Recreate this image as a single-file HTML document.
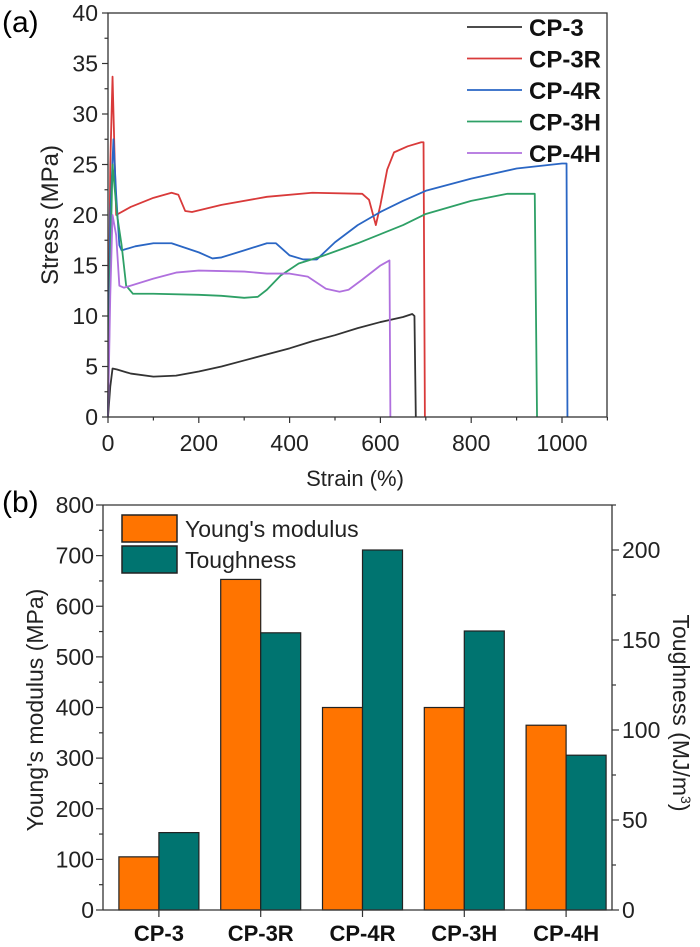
<!DOCTYPE html>
<html><head><meta charset="utf-8"><style>
body{margin:0;background:#fff}
svg{display:block;font-family:"Liberation Sans",Arial,sans-serif}
</style></head><body>
<svg id="fig" width="700" height="947" viewBox="0 0 700 947">
<g id="top"></g>
<g id="bot"></g>
</svg>
<script>
// ---- (a) data ----
const seriesNames=["CP-3","CP-3R","CP-4R","CP-3H","CP-4H"];
const seriesColors=["#333333","#d93a3a","#2a66c4","#2ea066","#b070de"];
const cp3=[[0,0],[5,3],[10,4.8],[20,4.7],[50,4.3],[100,4.0],[150,4.1],[200,4.5],[250,5.0],[300,5.6],[350,6.2],[400,6.8],[450,7.5],[500,8.1],[550,8.8],[600,9.4],[650,9.9],[670,10.2],[675,10],[678,0]];
const cp3r=[[0,0],[5,25],[10,33.7],[15,25],[18,20],[50,20.8],[100,21.7],[140,22.2],[155,22.0],[170,20.4],[185,20.3],[250,21.0],[350,21.8],[450,22.2],[560,22.1],[575,21.5],[590,19.0],[600,21],[615,24.5],[630,26.2],[660,26.8],[690,27.2],[695,27.2],[698,0]];
const cp4r=[[0,0],[5,20],[12,27.5],[18,22],[25,17],[30,16.5],[60,16.9],[100,17.2],[140,17.2],[200,16.3],[230,15.7],[250,15.8],[300,16.5],[350,17.2],[370,17.2],[400,16],[430,15.6],[460,15.6],[500,17.3],[550,19.0],[600,20.3],[650,21.4],[700,22.4],[800,23.6],[900,24.6],[1000,25.1],[1010,25.1],[1012,0]];
const cp3h=[[0,0],[5,15],[10,25],[20,20],[30,17],[40,13],[55,12.2],[100,12.2],[200,12.1],[250,12.0],[300,11.8],[330,11.9],[350,12.6],[380,14],[420,15.2],[470,15.9],[550,17.2],[650,19.0],[700,20.1],[800,21.4],[880,22.1],[940,22.1],[945,0]];
const cp4h=[[0,0],[5,12],[10,20],[18,18],[25,13],[35,12.8],[100,13.7],[150,14.3],[200,14.5],[300,14.4],[350,14.2],[400,14.2],[440,13.9],[480,12.7],[510,12.4],[530,12.6],[560,13.6],[600,15.0],[620,15.5],[622,0]];
const xTicksA=[0,200,400,600,800,1000];
const yTicksA=[0,5,10,15,20,25,30,35,40];
// ---- (b) data ----
const categories=["CP-3","CP-3R","CP-4R","CP-3H","CP-4H"];
const modulus=[105,653,400,400,365];
const toughness=[43,154,200,155,86];
const yTicksL=[0,100,200,300,400,500,600,700,800];
const yTicksR=[0,50,100,150,200];

const NS="http://www.w3.org/2000/svg";
function mk(p,tag,at,txt){const e=document.createElementNS(NS,tag);for(const k in at)e.setAttribute(k,at[k]);if(txt!=null)e.textContent=txt;p.appendChild(e);return e;}

// ===== chart a =====
const A=document.getElementById('top');
const aL=108,aR=607,aT=13,aB=417;
const ax=v=>aL+v*0.454;
const ay=v=>aB-v*(aB-aT)/40;
let t=mk(A,'text',{x:2,y:32,'font-size':30},'(a)');

const allS=[cp3,cp3r,cp4r,cp3h,cp4h];
allS.forEach((s,i)=>{
 const p=mk(A,'polyline',{points:s.map(d=>ax(d[0])+','+ay(d[1])).join(' '),fill:'none',stroke:seriesColors[i],'stroke-width':1.8,'stroke-linejoin':'round'});
 
 
});
let fr=mk(A,'rect',{x:aL,y:aT,width:aR-aL,height:aB-aT,fill:'none',stroke:'#333','stroke-width':1.3});

for(let v=0;v<=1100;v+=100){const x=ax(v);mk(A,'line',{x1:x,x2:x,y1:aB,y2:aB+(v%200==0?6:3.5),stroke:'#333','stroke-width':1.2});}
xTicksA.forEach(v=>{const e=mk(A,'text',{x:ax(v),y:451,'text-anchor':'middle','font-size':23,fill:'#222'},String(v));});
for(let v=0;v<=40;v+=2.5){const y=ay(v);mk(A,'line',{x1:aL,x2:aL-(v%5==0?6:3.5),y1:y,y2:y,stroke:'#333','stroke-width':1.2});}
yTicksA.forEach(v=>{const e=mk(A,'text',{x:aL-10,y:ay(v)+8,'text-anchor':'end','font-size':23,fill:'#222'},String(v));});
t=mk(A,'text',{x:355,y:486,'text-anchor':'middle','font-size':22,fill:'#222'},'Strain (%)');

t=mk(A,'text',{transform:'translate(58,215) rotate(-90)','text-anchor':'middle','font-size':24,fill:'#222'},'Stress (MPa)');

seriesNames.forEach((n,i)=>{
 const y=27+i*31.5;
 const g=mk(A,'g',{});
 
 mk(g,'line',{x1:467,x2:522,y1:y,y2:y,stroke:seriesColors[i],'stroke-width':1.8});
 mk(g,'text',{x:529,y:y+9,'font-size':24,'font-weight':'bold',fill:'#111'},n);
});

// ===== chart b =====
const B=document.getElementById('bot');
const bL=103,bR=612,bT=505,bB=910;
const byL=v=>bB-v*(bB-bT)/800;
const byR=v=>bB-v*(bB-550)/200;
t=mk(B,'text',{x:2,y:512,'font-size':30},'(b)');

const cw=(bR-bL)/5, bw=40;
categories.forEach((c,i)=>{
 const cx=bL+cw*(i+0.5)+5;
 let r=mk(B,'rect',{x:cx-bw,y:byL(modulus[i]),width:bw,height:bB-byL(modulus[i]),fill:'#ff7400',stroke:'#222','stroke-width':1.2});
 
 r=mk(B,'rect',{x:cx,y:byR(toughness[i]),width:bw,height:bB-byR(toughness[i]),fill:'#007470',stroke:'#222','stroke-width':1.2});
 
 mk(B,'line',{x1:cx,x2:cx,y1:bB,y2:bB+7,stroke:'#333','stroke-width':1.2});
 const e=mk(B,'text',{x:cx,y:941,'text-anchor':'middle','font-size':22,'font-weight':'bold',fill:'#111'},c);
 
});
mk(B,'line',{x1:bL,x2:bR,y1:bT,y2:bT,stroke:'#333','stroke-width':1.3});
mk(B,'line',{x1:bL,x2:bR,y1:bB,y2:bB,stroke:'#333','stroke-width':1.3});
mk(B,'line',{x1:bL,x2:bL,y1:bT,y2:bB,stroke:'#333','stroke-width':1.3});
mk(B,'line',{x1:bR,x2:bR,y1:bT,y2:bB,stroke:'#333','stroke-width':1.3});
for(let v=0;v<=800;v+=50){const y=byL(v);mk(B,'line',{x1:bL,x2:bL-(v%100==0?7:4),y1:y,y2:y,stroke:'#333','stroke-width':1.2});}
yTicksL.forEach(v=>{const e=mk(B,'text',{x:bL-9,y:byL(v)+8,'text-anchor':'end','font-size':23,fill:'#222'},String(v));});
for(let v=0;v<=225;v+=25){const y=byR(v);if(y<bT-1)continue;mk(B,'line',{x1:bR,x2:bR+(v%50==0?7:4),y1:y,y2:y,stroke:'#333','stroke-width':1.2});}
yTicksR.forEach(v=>{const e=mk(B,'text',{x:bR+10,y:byR(v)+8,'text-anchor':'start','font-size':23,fill:'#222'},String(v));});
t=mk(B,'text',{transform:'translate(43,710) rotate(-90)','text-anchor':'middle','font-size':23,fill:'#222'},"Young's modulus (MPa)");

t=mk(B,'text',{transform:'translate(673,713) rotate(90)','text-anchor':'middle','font-size':23,fill:'#222'});

t.innerHTML='Toughness (MJ/m<tspan dy="-8" font-size="14">3</tspan><tspan dy="8">)</tspan>';
const lg=mk(B,'g',{});

mk(lg,'rect',{x:122,y:515,width:55,height:27,fill:'#ff7400',stroke:'#222','stroke-width':1.5});
mk(lg,'text',{x:185,y:537,'font-size':23,fill:'#222'},"Young's modulus");
mk(lg,'rect',{x:122,y:546,width:55,height:27,fill:'#007470',stroke:'#222','stroke-width':1.5});
mk(lg,'text',{x:185,y:568,'font-size':23,fill:'#222'},'Toughness');
</script>
</body></html>
